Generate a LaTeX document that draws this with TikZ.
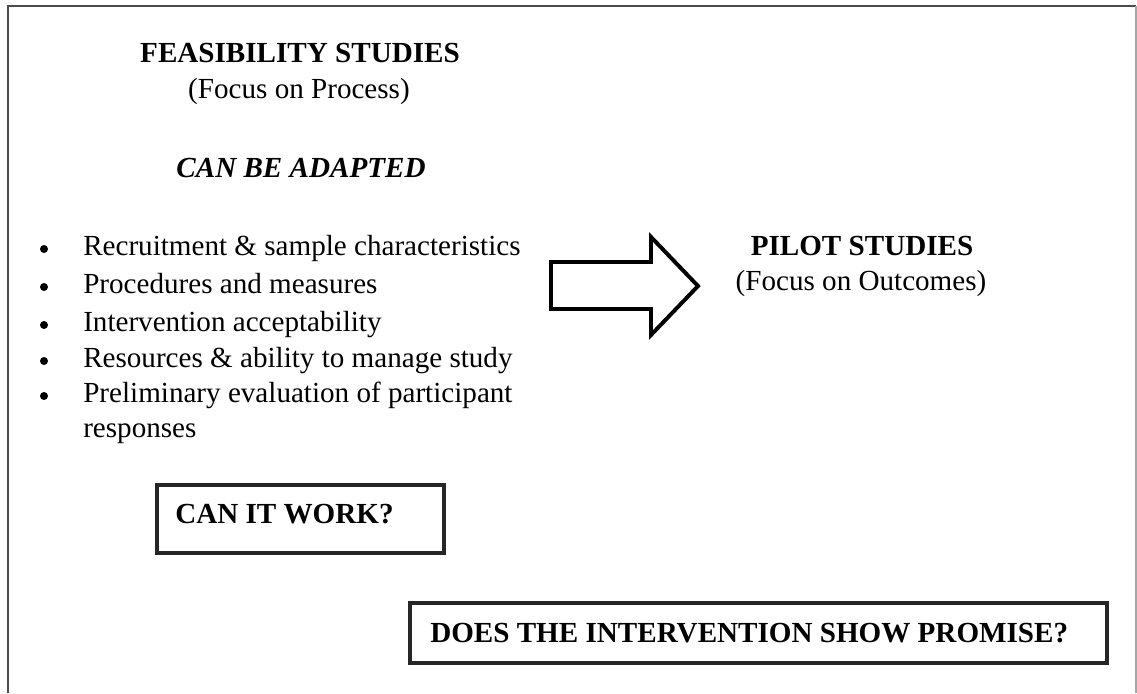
\documentclass[tikz,border=0pt]{standalone}
\usepackage{fontspec}
\setmainfont{Liberation Serif}

\tikzset{
	txt/.style={font=\fontsize{20.7}{25}\selectfont, inner sep=0pt},
	head/.style={font=\fontsize{20.7}{25}\selectfont\bfseries, inner sep=0pt},
	dot/.style={circle, fill=black, inner sep=0pt, minimum size=0.2cm},
	qbox/.style={line width=2.4pt, black!85},
}

\begin{document}
\begin{tikzpicture}[x=0.025cm, y=-0.025cm]
		\useasboundingbox (0,0) rectangle (1137,693);
		%Ramme
		\draw [line width=1.4pt, black!70] (8,693)--(8,6)--(1136,6);
		\draw [line width=0.8pt, black!35] (1136,6)--(1136,693);
		%Feasibility
		\node [head, anchor=base] (feas) at (300,62) {FEASIBILITY STUDIES};
		\node [txt, anchor=base] (proc) at (299,98) {(Focus on Process)};
		\node [head, font=\fontsize{20.7}{25}\selectfont\bfseries\itshape, anchor=base] (adapt) at (301,177) {CAN BE ADAPTED};
		\node [dot] (b1) at (44,249) {};
		\node [dot] (b2) at (44,287) {};
		\node [dot] (b3) at (44,325) {};
		\node [dot] (b4) at (44,361) {};
		\node [dot] (b5) at (44,396) {};
		\node [txt, anchor=base west] (i1) at (83,255) {Recruitment \& sample characteristics};
		\node [txt, anchor=base west] (i2) at (83,293) {Procedures and measures};
		\node [txt, anchor=base west] (i3) at (83,331) {Intervention acceptability};
		\node [txt, anchor=base west] (i4) at (83,367) {Resources \& ability to manage study};
		\node [txt, anchor=base west] (i5) at (83,402) {Preliminary evaluation of participant};
		\node [txt, anchor=base west] (i5b) at (83,437) {responses};
		%Pil
		\draw [line width=2.8pt, line join=miter] (551,262)--(651,262)--(651,237)--(698,286)--(651,335)--(651,309)--(551,309)--cycle;
		%Pilot
		\node [head, anchor=base] (pilot) at (862,255) {PILOT STUDIES};
		\node [txt, anchor=base] (outc) at (861,290) {(Focus on Outcomes)};
		%Spørsmål
		\draw [qbox] (157,485) rectangle (444,553);
		\node [head, anchor=base west] (work) at (175,523) {CAN IT WORK?};
		\draw [qbox] (410,603) rectangle (1107,663);
		\node [head, anchor=base west] (promise) at (430,642) {DOES THE INTERVENTION SHOW PROMISE?};
	\end{tikzpicture}
\end{document}
